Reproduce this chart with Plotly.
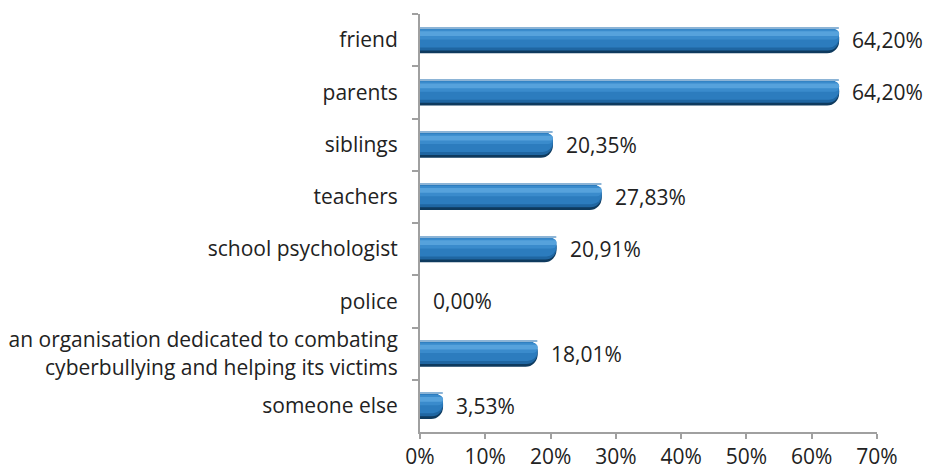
import plotly.graph_objects as go

categories = ["friend", "parents", "siblings", "teachers", "school psychologist", "police",
              "an organisation dedicated to combating<br>cyberbullying and helping its victims",
              "someone else"]
values = [64.20, 64.20, 20.35, 27.83, 20.91, 0.00, 18.01, 3.53]
value_labels = ["64,20%", "64,20%", "20,35%", "27,83%", "20,91%", "0,00%", "18,01%", "3,53%"]
x_ticks = [0, 10, 20, 30, 40, 50, 60, 70]
x_tick_labels = ["0%", "10%", "20%", "30%", "40%", "50%", "60%", "70%"]

FONT = "Open Sans"
FS = 21
fig = go.Figure()

half = 0.25
layers = [
    (0.0, 2 * half, "#0e3a5e", 12),
    (0.0, 2 * half - 0.05, "#1f66a2", 12),
    (0.0, 2 * half - 0.11, "#2c7cbe", 11),
    (0.04, 0.20, "#3a8bcc", 10),
    (0.08, 0.09, "#56a2dc", 6),
    (0.0, 0.02, "#8cb4d6", 2),
]
for off, w, col, cr in layers:
    fig.add_trace(go.Bar(
        y=categories, x=values, orientation="h",
        width=w, offset=-half + off,
        marker=dict(color=col, line=dict(width=0), cornerradius=cr),
        hoverinfo="skip", showlegend=False,
    ))

for c, v, t in zip(categories, values, value_labels):
    fig.add_annotation(x=v, y=c, text=t, xanchor="left", yanchor="middle",
                       xshift=11, showarrow=False,
                       font=dict(family=FONT, size=FS, color="#222222"))

fig.update_layout(
    width=927, height=471,
    margin=dict(l=420, r=50, t=14, b=39),
    paper_bgcolor="white", plot_bgcolor="white",
    barmode="overlay",
    font=dict(family=FONT, size=FS, color="#222222"),
    xaxis=dict(range=[0, 70], tickvals=x_ticks, ticktext=x_tick_labels,
               showgrid=False, zeroline=False, showline=True, linecolor="#a0a0a0",
               linewidth=2, ticks="outside", ticklen=5, tickcolor="#a0a0a0",
               tickwidth=2, ticklabelstandoff=0, automargin=False),
    yaxis=dict(type="category", categoryorder="array", categoryarray=categories,
               autorange="reversed", showgrid=False, zeroline=False, showline=True,
               linecolor="#a0a0a0", linewidth=2, ticks="outside", ticklen=6,
               tickcolor="#a0a0a0", tickwidth=2, tickson="boundaries",
               ticklabelstandoff=16, automargin=False),
)

fig.write_html("out.html")
